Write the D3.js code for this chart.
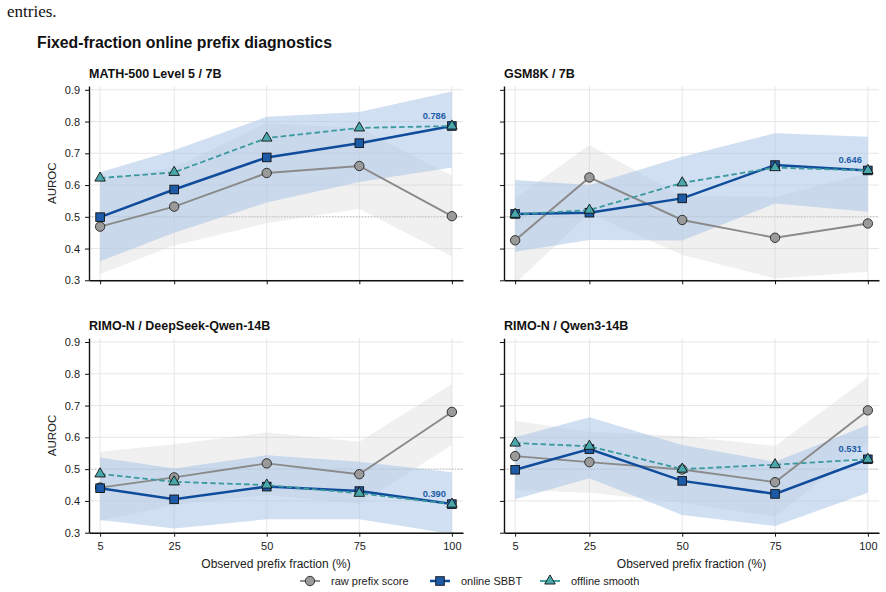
<!DOCTYPE html>
<html lang="en">
<head>
    <meta charset="UTF-8">
    <title>Fixed-fraction online prefix diagnostics</title>
    <script src="https://d3js.org/d3.v7.min.js"></script>
    <style>
        body { margin: 0; background: #fff; }
        svg { display: block; font-family: "Liberation Sans", Arial, sans-serif; }
    </style>
</head>
<body>
    <svg width="886" height="592"></svg>
    <script>
        // x positions (observed prefix fraction, %)
        const fractions = [5, 25, 50, 75, 100];
        const yTicks = [0.3, 0.4, 0.5, 0.6, 0.7, 0.8, 0.9];
        const panelTitles = ['MATH-500 Level 5 / 7B', 'GSM8K / 7B', 'RIMO-N / DeepSeek-Qwen-14B', 'RIMO-N / Qwen3-14B'];
        const seriesNames = ['raw prefix score', 'online SBBT', 'offline smooth'];

        // one row per panel, in the order of panelTitles
        const rawScore = [
            [0.469, 0.532, 0.638, 0.660, 0.502],
            [0.426, 0.624, 0.490, 0.434, 0.479],
            [0.442, 0.474, 0.518, 0.484, 0.680],
            [0.541, 0.522, 0.499, 0.459, 0.685]
        ];
        const rawLow = [
            [0.320, 0.410, 0.480, 0.525, 0.375],
            [0.290, 0.510, 0.380, 0.306, 0.327],
            [0.337, 0.387, 0.419, 0.390, 0.576],
            [0.434, 0.426, 0.394, 0.350, 0.581]
        ];
        const rawHigh = [
            [0.615, 0.655, 0.795, 0.780, 0.630],
            [0.558, 0.726, 0.565, 0.563, 0.637],
            [0.555, 0.578, 0.615, 0.586, 0.768],
            [0.652, 0.618, 0.604, 0.573, 0.788]
        ];
        const onlineSbbt = [
            [0.499, 0.586, 0.687, 0.732, 0.786],
            [0.509, 0.513, 0.558, 0.663, 0.646],
            [0.440, 0.405, 0.445, 0.431, 0.390],
            [0.498, 0.563, 0.463, 0.422, 0.531]
        ];
        const sbbtLow = [
            [0.360, 0.450, 0.545, 0.610, 0.655],
            [0.390, 0.427, 0.425, 0.542, 0.516],
            [0.340, 0.313, 0.342, 0.342, 0.296],
            [0.405, 0.471, 0.356, 0.321, 0.426]
        ];
        const sbbtHigh = [
            [0.640, 0.710, 0.815, 0.830, 0.895],
            [0.616, 0.600, 0.689, 0.763, 0.752],
            [0.537, 0.502, 0.544, 0.523, 0.490],
            [0.600, 0.663, 0.576, 0.523, 0.639]
        ];
        const offlineSmooth = [
            [0.622, 0.640, 0.748, 0.780, 0.786],
            [0.508, 0.521, 0.607, 0.655, 0.646],
            [0.485, 0.460, 0.450, 0.424, 0.390],
            [0.582, 0.572, 0.500, 0.514, 0.531]
        ];

        const colors = {
            raw: '#8a8a8a', rawFill: '#9a9a9a',
            sbbt: '#0f4c9c', sbbtFill: '#1d5ba8',
            off: '#3a9a9e', offFill: '#4aa8ac',
            band: '#a9c4e6', grayBand: '#d0d0d0'
        };

        const svg = d3.select('svg');

        // page text above the figure
        svg.append('text')
            .attr('x', 7).attr('y', 17)
            .attr('font-family', '"Liberation Serif", "Times New Roman", serif')
            .attr('font-size', 17).attr('fill', '#111')
            .text('entries.');

        svg.append('text')
            .attr('x', 37).attr('y', 48)
            .attr('font-size', 15.8).attr('font-weight', 'bold').attr('fill', '#111')
            .text('Fixed-fraction online prefix diagnostics');

        const cols = [{ x: 89, w: 374 }, { x: 504, w: 375 }];
        const rows = [{ y: 86, h: 194.3 }, { y: 338.2, h: 194.5 }];

        panelTitles.forEach((title, p) => {
            const c = cols[p % 2];
            const r = rows[Math.floor(p / 2)];
            const isLeft = p % 2 === 0;
            const isBottom = p >= 2;

            const x = d3.scaleLinear().domain([2, 103]).range([c.x, c.x + c.w]);
            const y = d3.scaleLinear().domain([0.3, 0.912]).range([r.y + r.h, r.y]);

            const g = svg.append('g');

            g.append('clipPath').attr('id', 'clip' + p)
                .append('rect')
                .attr('x', c.x).attr('y', r.y).attr('width', c.w).attr('height', r.h);

            // grid
            g.selectAll('.gx').data(fractions).enter().append('line')
                .attr('x1', d => x(d)).attr('x2', d => x(d))
                .attr('y1', r.y).attr('y2', r.y + r.h)
                .attr('stroke', '#e6e6e6').attr('stroke-width', 1);
            g.selectAll('.gy').data(yTicks).enter().append('line')
                .attr('x1', c.x).attr('x2', c.x + c.w)
                .attr('y1', d => y(d)).attr('y2', d => y(d))
                .attr('stroke', '#e6e6e6').attr('stroke-width', 1);

            // chance line
            g.append('line')
                .attr('x1', c.x).attr('x2', c.x + c.w)
                .attr('y1', y(0.5)).attr('y2', y(0.5))
                .attr('stroke', '#a8a8a8').attr('stroke-width', 0.8)
                .attr('stroke-dasharray', '1.2,1.8');

            const plot = g.append('g').attr('clip-path', `url(#clip${p})`);

            const area = (lo, hi) => d3.area()
                .x((d, i) => x(fractions[i]))
                .y0((d, i) => y(lo[i]))
                .y1((d, i) => y(hi[i]))(fractions);

            plot.append('path').attr('d', area(rawLow[p], rawHigh[p]))
                .attr('fill', colors.grayBand).attr('fill-opacity', 0.33);
            plot.append('path').attr('d', area(sbbtLow[p], sbbtHigh[p]))
                .attr('fill', colors.band).attr('fill-opacity', 0.55);

            const line = d3.line().x((d, i) => x(fractions[i])).y(d => y(d));

            // raw prefix score
            plot.append('path').attr('d', line(rawScore[p]))
                .attr('fill', 'none').attr('stroke', colors.raw).attr('stroke-width', 1.9);
            plot.selectAll('.mr').data(rawScore[p]).enter().append('circle')
                .attr('cx', (d, i) => x(fractions[i])).attr('cy', d => y(d)).attr('r', 4.7)
                .attr('fill', colors.rawFill).attr('stroke', '#222').attr('stroke-width', 0.9);

            // online SBBT
            plot.append('path').attr('d', line(onlineSbbt[p]))
                .attr('fill', 'none').attr('stroke', colors.sbbt).attr('stroke-width', 2.5);
            plot.selectAll('.ms').data(onlineSbbt[p]).enter().append('rect')
                .attr('x', (d, i) => x(fractions[i]) - 4.3).attr('y', d => y(d) - 4.3)
                .attr('width', 8.6).attr('height', 8.6)
                .attr('fill', colors.sbbtFill).attr('stroke', '#111').attr('stroke-width', 0.9);

            // offline smooth
            plot.append('path').attr('d', line(offlineSmooth[p]))
                .attr('fill', 'none').attr('stroke', colors.off).attr('stroke-width', 1.8)
                .attr('stroke-dasharray', '5.5,3');
            const tri = d3.symbol().type(d3.symbolTriangle).size(48);
            plot.selectAll('.mt').data(offlineSmooth[p]).enter().append('path')
                .attr('d', tri)
                .attr('transform', (d, i) => `translate(${x(fractions[i])},${y(d)})`)
                .attr('fill', colors.offFill).attr('stroke', '#111').attr('stroke-width', 0.9);

            // final online value
            const last = onlineSbbt[p][fractions.length - 1];
            g.append('text')
                .attr('x', x(fractions[fractions.length - 1]) - 6)
                .attr('y', y(last) - 7)
                .attr('text-anchor', 'end')
                .attr('font-size', 9.3).attr('font-weight', 'bold')
                .attr('fill', colors.sbbtFill)
                .text(last.toFixed(3));

            // axes
            const yAxis = d3.axisLeft(y).tickValues(yTicks).tickSize(4).tickSizeOuter(0).tickPadding(5)
                .tickFormat(isLeft ? d3.format('.1f') : '');
            const ya = g.append('g').attr('transform', `translate(${c.x},0)`).call(yAxis);

            const xAxis = d3.axisBottom(x).tickValues(fractions).tickSize(4).tickSizeOuter(0).tickPadding(5.5)
                .tickFormat(isBottom ? d3.format('d') : '');
            const xa = g.append('g').attr('transform', `translate(0,${r.y + r.h})`).call(xAxis);

            [ya, xa].forEach(a => {
                a.select('.domain').attr('stroke', '#111').attr('stroke-width', 1.4);
                a.selectAll('.tick line').attr('stroke', '#111').attr('stroke-width', 1);
                a.selectAll('.tick text').attr('font-size', 11).attr('fill', '#222')
                    .attr('font-family', '"Liberation Sans", Arial, sans-serif');
            });

            g.append('text')
                .attr('x', c.x).attr('y', r.y - 8)
                .attr('font-size', 12.5).attr('font-weight', 'bold').attr('fill', '#111')
                .text(title);

            if (isLeft) {
                g.append('text')
                    .attr('transform', `translate(56,${r.y + r.h / 2}) rotate(-90)`)
                    .attr('text-anchor', 'middle')
                    .attr('font-size', 11.5).attr('fill', '#222')
                    .text('AUROC');
            }
            if (isBottom) {
                g.append('text')
                    .attr('x', c.x + c.w / 2).attr('y', r.y + r.h + 35.5)
                    .attr('text-anchor', 'middle')
                    .attr('font-size', 12).attr('fill', '#222')
                    .text('Observed prefix fraction (%)');
            }
        });

        // legend
        const legendX = [310, 440, 550];
        const legendY = 581;
        const lg = svg.append('g');
        seriesNames.forEach((name, i) => {
            const cx = legendX[i];
            const stroke = [colors.raw, colors.sbbt, colors.off][i];
            lg.append('line')
                .attr('x1', cx - 10).attr('x2', cx + 10)
                .attr('y1', legendY).attr('y2', legendY)
                .attr('stroke', stroke).attr('stroke-width', i === 1 ? 2.5 : 1.9);
            if (i === 0) {
                lg.append('circle').attr('cx', cx).attr('cy', legendY).attr('r', 4.7)
                    .attr('fill', colors.rawFill).attr('stroke', '#222').attr('stroke-width', 0.9);
            } else if (i === 1) {
                lg.append('rect').attr('x', cx - 4.3).attr('y', legendY - 4.3)
                    .attr('width', 8.6).attr('height', 8.6)
                    .attr('fill', colors.sbbtFill).attr('stroke', '#111').attr('stroke-width', 0.9);
            } else {
                lg.append('path').attr('d', d3.symbol().type(d3.symbolTriangle).size(48))
                    .attr('transform', `translate(${cx},${legendY})`)
                    .attr('fill', colors.offFill).attr('stroke', '#111').attr('stroke-width', 0.9);
            }
            lg.append('text')
                .attr('x', cx + 21).attr('y', legendY + 3.8)
                .attr('font-size', 11).attr('fill', '#222')
                .text(name);
        });
    </script>
</body>
</html>
